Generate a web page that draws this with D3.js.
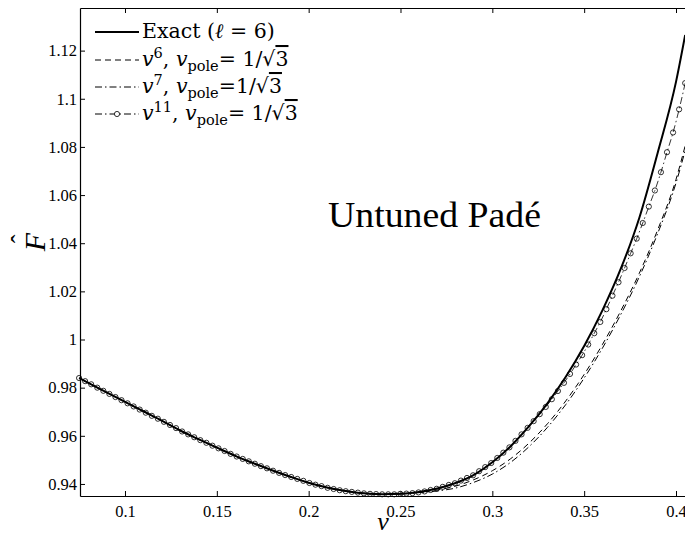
<!DOCTYPE html>
<html>
<head>
<meta charset="utf-8">
<script src="https://cdn.jsdelivr.net/npm/d3@7"></script>
<style>
  body { margin: 0; background: #fff; }
  svg { display: block; }
  text { font-family: "Liberation Serif", "DejaVu Serif", serif; fill: #000; }
  .legend text { font-family: "DejaVu Serif", serif; }
</style>
</head>
<body>
<svg width="685" height="536"></svg>
<script>
// line grid (v) and curves
const vGrid = [0.075, 0.08, 0.09, 0.10, 0.11, 0.12, 0.13, 0.14, 0.15, 0.16, 0.17, 0.18, 0.19,
  0.20, 0.21, 0.22, 0.23, 0.24, 0.25, 0.26, 0.27, 0.28, 0.29, 0.30, 0.31, 0.32, 0.33, 0.34,
  0.35, 0.36, 0.37, 0.38, 0.39, 0.40, 0.405];

const exactF = [0.9840, 0.9820, 0.9780, 0.9741, 0.9702, 0.9663, 0.9622, 0.9586, 0.9551, 0.9517,
  0.9486, 0.9457, 0.9430, 0.9405, 0.9385, 0.9371, 0.9361, 0.9357, 0.9359, 0.9367, 0.9381,
  0.9404, 0.9438, 0.9490, 0.9557, 0.9640, 0.9735, 0.9845, 0.9973, 1.0122, 1.0295, 1.0505,
  1.0775, 1.1070, 1.1265];

const v6F = [0.9840, 0.9820, 0.9780, 0.9741, 0.9702, 0.9663, 0.9622, 0.9586, 0.9551, 0.9517,
  0.9486, 0.9457, 0.9430, 0.9405, 0.9385, 0.9371, 0.9361, 0.9357, 0.9359, 0.9365, 0.9375,
  0.9391, 0.9418, 0.9455, 0.9505, 0.9570, 0.9650, 0.9745, 0.9855, 0.9980, 1.0120, 1.0275,
  1.0455, 1.0665, 1.0805];

const v7F = [0.9840, 0.9820, 0.9780, 0.9741, 0.9702, 0.9663, 0.9622, 0.9586, 0.9551, 0.9517,
  0.9486, 0.9457, 0.9430, 0.9405, 0.9385, 0.9371, 0.9361, 0.9357, 0.9359, 0.9364, 0.9371,
  0.9383, 0.9407, 0.9441, 0.9490, 0.9555, 0.9635, 0.9730, 0.9840, 0.9965, 1.0105, 1.0260,
  1.0440, 1.0650, 1.0785];

// the v^11 curve is drawn with a marker on every sample
const vDense = [0.0750, 0.0783, 0.0816, 0.0849, 0.0882, 0.0915, 0.0948, 0.0981, 0.1014, 0.1047,
  0.1080, 0.1113, 0.1146, 0.1179, 0.1212, 0.1245, 0.1278, 0.1311, 0.1344, 0.1377,
  0.1410, 0.1443, 0.1476, 0.1509, 0.1542, 0.1575, 0.1608, 0.1641, 0.1674, 0.1707,
  0.1740, 0.1773, 0.1806, 0.1839, 0.1872, 0.1905, 0.1938, 0.1971, 0.2004, 0.2037,
  0.2070, 0.2103, 0.2136, 0.2169, 0.2202, 0.2235, 0.2268, 0.2301, 0.2334, 0.2367,
  0.2400, 0.2433, 0.2466, 0.2499, 0.2532, 0.2565, 0.2598, 0.2631, 0.2664, 0.2697,
  0.2730, 0.2763, 0.2796, 0.2829, 0.2862, 0.2895, 0.2928, 0.2961, 0.2994, 0.3027,
  0.3060, 0.3093, 0.3126, 0.3159, 0.3192, 0.3225, 0.3258, 0.3291, 0.3324, 0.3357,
  0.3390, 0.3423, 0.3456, 0.3489, 0.3522, 0.3555, 0.3588, 0.3621, 0.3654, 0.3687,
  0.3720, 0.3753, 0.3786, 0.3819, 0.3852, 0.3885, 0.3918, 0.3951, 0.3984, 0.4017, 0.4050];

const v11F = [0.9840, 0.9827, 0.9814, 0.9800, 0.9787, 0.9774, 0.9761, 0.9748, 0.9735, 0.9722,
  0.9709, 0.9696, 0.9683, 0.9671, 0.9658, 0.9645, 0.9632, 0.9618, 0.9606, 0.9594,
  0.9582, 0.9571, 0.9559, 0.9548, 0.9537, 0.9525, 0.9514, 0.9504, 0.9494, 0.9484,
  0.9474, 0.9465, 0.9455, 0.9446, 0.9437, 0.9429, 0.9421, 0.9413, 0.9404, 0.9397,
  0.9391, 0.9384, 0.9379, 0.9374, 0.9370, 0.9367, 0.9364, 0.9361, 0.9359, 0.9358,
  0.9357, 0.9357, 0.9357, 0.9359, 0.9360, 0.9362, 0.9365, 0.9369, 0.9375, 0.9380,
  0.9388, 0.9396, 0.9403, 0.9414, 0.9425, 0.9436, 0.9453, 0.9470, 0.9487, 0.9508,
  0.9530, 0.9552, 0.9579, 0.9606, 0.9633, 0.9661, 0.9690, 0.9720, 0.9752, 0.9786,
  0.9820, 0.9857, 0.9896, 0.9935, 0.9979, 1.0026, 1.0073, 1.0126, 1.0182, 1.0238,
  1.0297, 1.0358, 1.0419, 1.0484, 1.0552, 1.0619, 1.0695, 1.0778, 1.0860, 1.0956, 1.1065];

const xTicks = [0.1, 0.15, 0.2, 0.25, 0.3, 0.35, 0.4];
const yTicks = [0.94, 0.96, 0.98, 1, 1.02, 1.04, 1.06, 1.08, 1.1, 1.12];

const plotLeft = 80, plotRight = 685, plotTop = 8, plotBottom = 496;

const svg = d3.select('svg');

let x = d3.scaleLinear().domain([0.0755, 0.4049]).range([plotLeft, plotRight]);
let y = d3.scaleLinear().domain([0.935, 1.1377]).range([plotBottom, plotTop]);

const dashed = '6,4';
const dashDot = '7,3,1.5,3';

let line = (xs, ys) => d3.line()
  .x((d, i) => x(xs[i]))
  .y((d) => y(d))
  .curve(d3.curveMonotoneX)(ys);

// curves
svg.append('path').attr('d', line(vGrid, v6F))
  .attr('fill', 'none').attr('stroke', '#000').attr('stroke-width', 1)
  .attr('stroke-dasharray', dashed);

svg.append('path').attr('d', line(vGrid, v7F))
  .attr('fill', 'none').attr('stroke', '#000').attr('stroke-width', 1)
  .attr('stroke-dasharray', dashDot);

svg.append('path').attr('d', line(vDense, v11F))
  .attr('fill', 'none').attr('stroke', '#000').attr('stroke-width', 0.8)
  .attr('stroke-dasharray', dashDot);

svg.append('g').selectAll('circle')
  .data(v11F)
  .join('circle')
  .attr('cx', (d, i) => x(vDense[i]))
  .attr('cy', (d) => y(d))
  .attr('r', 2.6)
  .attr('fill', 'none')
  .attr('stroke', '#000')
  .attr('stroke-width', 0.8);

svg.append('path').attr('d', line(vGrid, exactF))
  .attr('fill', 'none').attr('stroke', '#000').attr('stroke-width', 2);

// axes, ticks pointing inwards
let styleAxis = (g) => {
  g.selectAll('path.domain').attr('stroke', '#000').attr('stroke-width', 1.2);
  g.selectAll('.tick line').attr('stroke', '#000').attr('stroke-width', 1);
  g.selectAll('text').attr('font-size', 16.5);
};

svg.append('g')
  .attr('transform', `translate(0,${plotBottom})`)
  .call(d3.axisBottom(x).tickValues(xTicks).tickSize(-5).tickSizeOuter(0).tickPadding(9)
    .tickFormat((d) => String(d)))
  .call(styleAxis);

svg.append('g')
  .attr('transform', `translate(0,${plotTop})`)
  .call(d3.axisTop(x).tickValues(xTicks).tickSize(-5).tickSizeOuter(0).tickFormat(''))
  .call(styleAxis);

svg.append('g')
  .attr('transform', `translate(${plotLeft},0)`)
  .call(d3.axisLeft(y).tickValues(yTicks).tickSize(-5).tickSizeOuter(0).tickPadding(3)
    .tickFormat((d) => String(d)))
  .call(styleAxis);

// axis labels
svg.append('text')
  .attr('x', 383).attr('y', 530)
  .attr('text-anchor', 'middle')
  .attr('font-size', 26).attr('font-style', 'italic')
  .text('v');

let yl = svg.append('g').attr('transform', 'translate(45,242) rotate(-90)');
yl.append('text').attr('text-anchor', 'middle')
  .attr('font-size', 30).attr('font-style', 'italic').text('F');
yl.append('text').attr('x', 3).attr('y', -16).attr('text-anchor', 'middle')
  .attr('font-size', 26).text('\u02C6');

svg.append('text')
  .attr('x', 328).attr('y', 227)
  .attr('font-size', 35)
  .attr('textLength', 213).attr('lengthAdjust', 'spacingAndGlyphs')
  .text('Untuned Padé');

// legend
const legendLabels = [
  [{ t: 'Exact (' }, { t: 'ℓ', i: true }, { t: ' = 6)' }],
  [{ t: 'v', i: true }, { t: '6', sup: true }, { t: ', ' }, { t: 'v', i: true }, { t: 'pole', sub: true },
    { t: '= 1/√' }, { t: '3', over: true }],
  [{ t: 'v', i: true }, { t: '7', sup: true }, { t: ', ' }, { t: 'v', i: true }, { t: 'pole', sub: true },
    { t: '=1/√' }, { t: '3', over: true }],
  [{ t: 'v', i: true }, { t: '11', sup: true }, { t: ', ' }, { t: 'v', i: true }, { t: 'pole', sub: true },
    { t: '= 1/√' }, { t: '3', over: true }]
];
const legendDash = [null, dashed, dashDot, dashDot];
const rowBase = [38, 66, 93, 120];

let legend = svg.append('g').attr('class', 'legend');

legendLabels.forEach((parts, k) => {
  let ly = rowBase[k] - 6;
  legend.append('line')
    .attr('x1', 95).attr('x2', 139).attr('y1', ly).attr('y2', ly)
    .attr('stroke', '#000')
    .attr('stroke-width', k === 0 ? 2 : 1)
    .attr('stroke-dasharray', legendDash[k]);
  if (k === 3) {
    legend.append('circle').attr('cx', 117).attr('cy', ly).attr('r', 2.6)
      .attr('fill', '#fff').attr('stroke', '#000').attr('stroke-width', 0.8);
  }
  let t = legend.append('text').attr('x', 142).attr('y', rowBase[k]).attr('font-size', 20.5);
  let shift = 0;
  parts.forEach((p) => {
    let target = p.sup ? -8 : p.sub ? 5 : 0;
    let s = t.append('tspan')
      .attr('dy', target - shift)
      .attr('font-size', p.sup || p.sub ? 14.5 : 20.5)
      .attr('font-style', p.i ? 'italic' : 'normal')
      .text(p.t);
    if (p.over) s.style('text-decoration', 'overline');
    shift = target;
  });
});
</script>
</body>
</html>
